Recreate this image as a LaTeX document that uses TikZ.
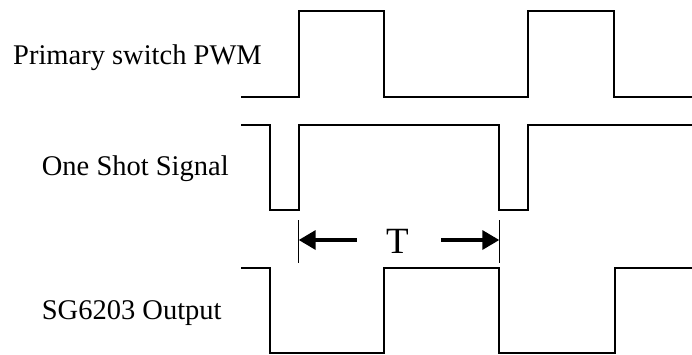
\documentclass[tikz,border=0pt]{standalone}
\usepackage{fontspec}
\setmainfont{Liberation Serif}
\usetikzlibrary{arrows.meta}
\begin{document}
\begin{tikzpicture}[x=1pt,y=-1pt,
  wave/.style={line width=1.8pt},
  lbl/.style={anchor=base west,inner sep=0pt,font=\fontsize{28.5}{30}\selectfont},
  tick/.style={line width=1pt},
  dimarrow/.style={line width=3.5pt,-{Triangle[length=17pt,width=19pt]}}]
\useasboundingbox (0,0) rectangle (692,354);
% labels
\node[lbl] (pwm) at (13,64.3) {Primary switch PWM};
\node[lbl] (os) at (41.7,175.5) {One Shot Signal};
\node[lbl] (sg) at (41.7,319.5) {SG6203 Output};
% waveforms
\draw[wave] (241,97) -- (298.7,97) -- (298.7,11) -- (384,11) -- (384,97) -- (527.7,97) -- (527.7,11) -- (614,11) -- (614,97) -- (692,97);
\draw[wave] (241,125) -- (270,125) -- (270,210) -- (298.7,210) -- (298.7,125) -- (499.3,125) -- (499.3,210) -- (527.7,210) -- (527.7,125) -- (692,125);
\draw[wave] (241,268.3) -- (270,268.3) -- (270,353) -- (384.3,353) -- (384.3,268.3) -- (499.3,268.3) -- (499.3,353) -- (615,353) -- (615,268.3) -- (692,268.3);
% T dimension
\coordinate (tl1) at (298.2,220);
\coordinate (tl2) at (298.2,262.7);
\coordinate (tr1) at (499.8,220);
\coordinate (tr2) at (499.8,262.7);
\draw[tick] (tl1) -- (tl2);
\draw[tick] (tr1) -- (tr2);
\node[anchor=base,inner sep=0pt,font=\fontsize{37}{40}\selectfont] (T) at (397.5,253) {T};
\coordinate (al) at (356.7,240);
\coordinate (alt) at (298.7,240);
\coordinate (ar) at (441,240);
\coordinate (art) at (499.3,240);
\draw[dimarrow] (al) -- (alt);
\draw[dimarrow] (ar) -- (art);
\end{tikzpicture}
\end{document}
